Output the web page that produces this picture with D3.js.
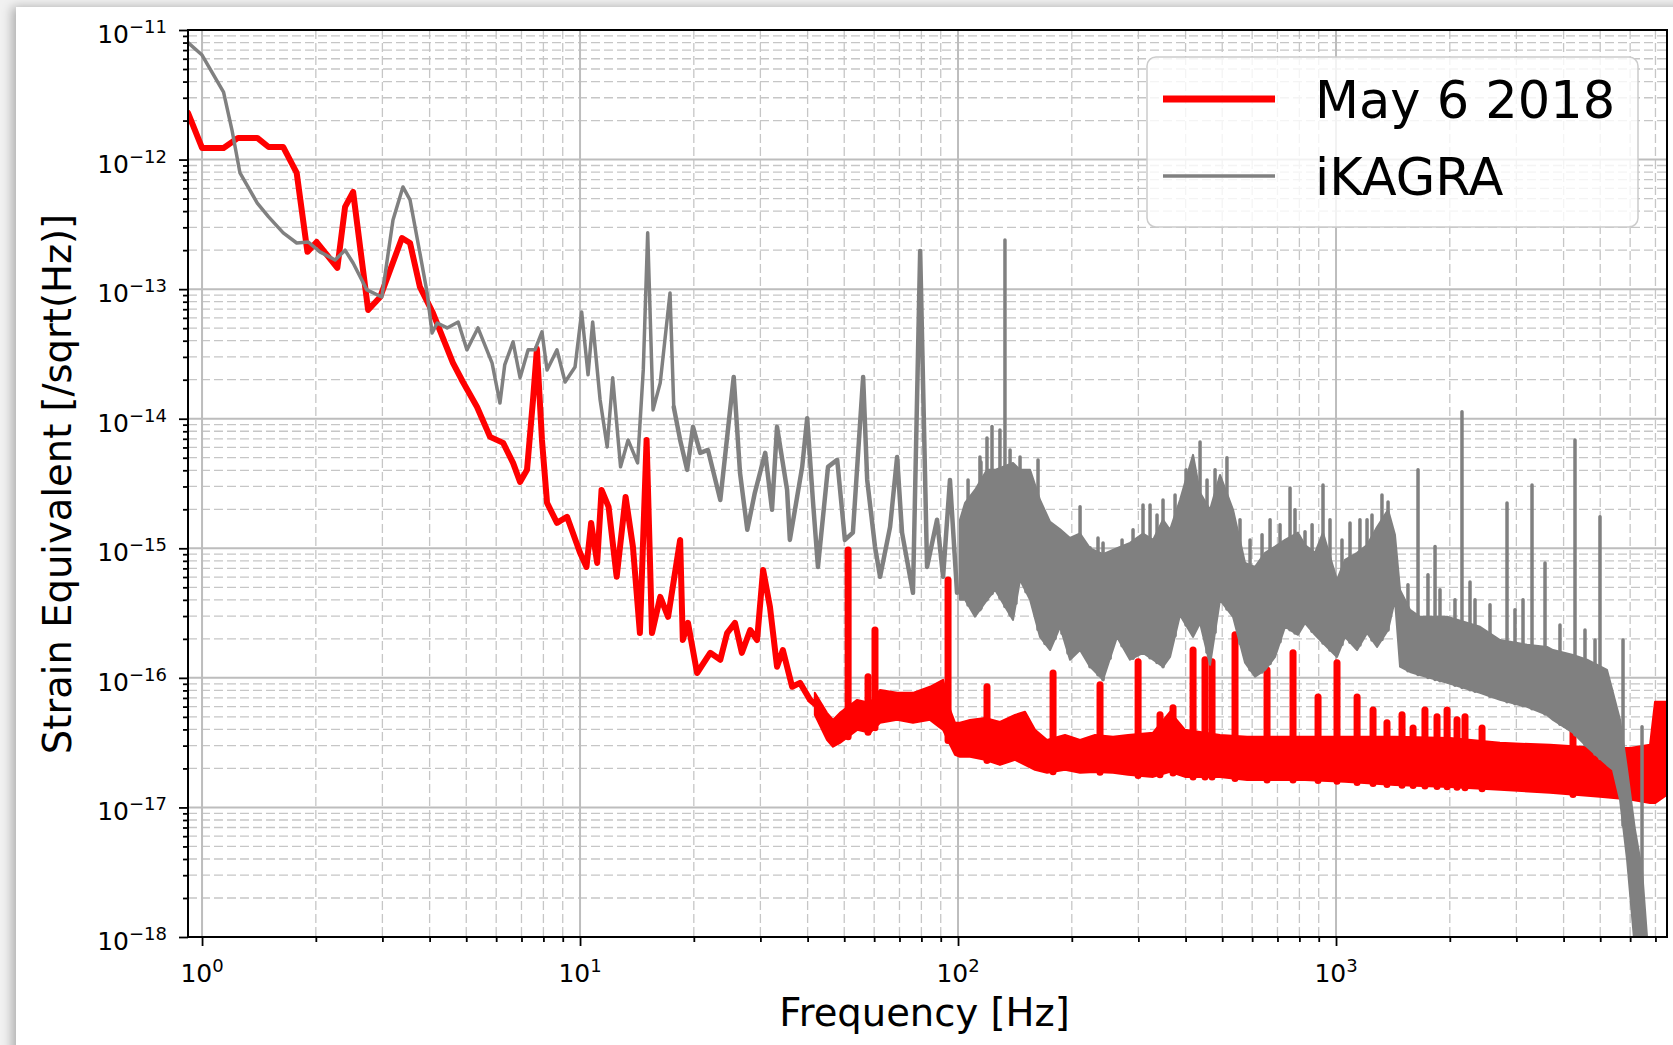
<!DOCTYPE html>
<html>
<head>
<meta charset="utf-8">
<script src="https://cdn.jsdelivr.net/npm/d3@7"></script>
<style>
  body { margin: 0; background: #f1f1f1; overflow: hidden; }
  #card { position: absolute; left: 16px; top: 7px; width: 1720px; height: 1100px;
          background: #fff; box-shadow: -4px 0 10px rgba(0,0,0,0.28); }
  svg { position: absolute; left: 0; top: 0; }
  text { font-family: "DejaVu Sans", sans-serif; fill: #000; }
</style>
</head>
<body>
<div id="card"></div>
<script>
/*
Strain sensitivity plot: May 6 2018 vs iKAGRA, log-log axes
*/

// tick exponents and legend text
var xTickExp = [0, 1, 2, 3];
var yTickExp = [-11, -12, -13, -14, -15, -16, -17, -18];
var legendLabels = ['May 6 2018', 'iKAGRA'];

// red trace, low frequency part (Hz, strain)
var redFreq = [0.918, 1.0, 1.14, 1.245, 1.40, 1.50, 1.64, 1.78, 1.90, 2.01, 2.28, 2.39, 2.51, 2.75, 2.96,
  3.38, 3.55, 3.77, 4.08, 4.61, 4.90, 5.34, 5.78, 6.26, 6.65, 6.94, 7.24, 7.51, 7.69, 7.93, 8.18, 8.69,
  9.24, 10.0, 10.4, 10.7, 11.1, 11.4, 11.9, 12.5, 13.2, 13.8, 14.4, 15.0, 15.5, 16.3, 17.1, 18.4, 18.7,
  19.3, 20.4, 22.1, 23.5, 24.5, 25.7, 26.8, 28.2, 29.4, 30.5, 31.8, 33.2, 34.4, 36.4, 38.2, 40.6, 41.8];
var redVal = [2.29e-12, 1.23e-12, 1.23e-12, 1.47e-12, 1.47e-12, 1.25e-12, 1.25e-12, 7.88e-13, 1.94e-13,
  2.31e-13, 1.46e-13, 4.31e-13, 5.62e-13, 6.91e-14, 8.7e-14, 2.48e-13, 2.27e-13, 1.04e-13, 6.55e-14,
  2.70e-14, 1.92e-14, 1.23e-14, 7.24e-15, 6.51e-15, 4.56e-15, 3.25e-15, 4.03e-15, 1.40e-14, 3.46e-14,
  6.86e-15, 2.24e-15, 1.57e-15, 1.75e-15, 9.22e-16, 7.18e-16, 1.57e-15, 7.71e-16, 2.82e-15, 2.09e-15,
  6.02e-16, 2.49e-15, 1.03e-15, 2.22e-16, 6.86e-15, 2.22e-16, 4.22e-16, 2.96e-16, 1.16e-15, 1.96e-16,
  2.66e-16, 1.09e-16, 1.56e-16, 1.38e-16, 2.22e-16, 2.66e-16, 1.56e-16, 2.34e-16, 1.96e-16, 6.81e-16,
  3.53e-16, 1.22e-16, 1.64e-16, 8.53e-17, 9.15e-17, 6.76e-17, 6.3e-17];

// red trace, dense noisy part: upper / lower envelope
var redBandFreq = [41.8, 45.0, 46.7, 48.7, 54.1, 58.5, 62.2, 69.0, 76.0, 84.3, 91.3, 95.3, 98.2, 101.2,
  107.6, 117.9, 129.1, 141.5, 150.4, 159.8, 172.0, 191.9, 210.3, 230.4, 257.1, 281.7, 328.1, 363.8, 398.6,
  493.3, 581.7, 711.0, 827.9, 1056, 1432, 2003, 2716, 3683, 4993, 5996, 6773, 6981, 7512];
var redBandHi = [7.66e-17, 5.37e-17, 4.74e-17, 5.37e-17, 6.76e-17, 6.41e-17, 8.07e-17, 7.66e-17, 7.66e-17,
  8.53e-17, 9.66e-17, 5.66e-17, 4.50e-17, 4.50e-17, 4.74e-17, 4.91e-17, 4.57e-17, 5.18e-17, 5.47e-17,
  3.97e-17, 3.32e-17, 3.63e-17, 3.32e-17, 3.63e-17, 3.51e-17, 3.63e-17, 3.77e-17, 5.47e-17, 3.97e-17,
  3.63e-17, 3.51e-17, 3.51e-17, 3.51e-17, 3.51e-17, 3.51e-17, 3.44e-17, 3.15e-17, 3.04e-17, 2.88e-17,
  2.88e-17, 3.04e-17, 6.53e-17, 6.53e-17];
var redBandLo = [5.18e-17, 3.32e-17, 2.94e-17, 3.15e-17, 3.97e-17, 3.77e-17, 4.50e-17, 4.74e-17, 4.50e-17,
  4.74e-17, 3.97e-17, 3.04e-17, 2.55e-17, 2.46e-17, 2.46e-17, 2.33e-17, 2.13e-17, 2.33e-17, 2.13e-17,
  1.95e-17, 1.85e-17, 1.95e-17, 1.85e-17, 1.88e-17, 1.85e-17, 1.79e-17, 1.72e-17, 1.88e-17, 1.72e-17,
  1.72e-17, 1.63e-17, 1.63e-17, 1.63e-17, 1.58e-17, 1.49e-17, 1.44e-17, 1.37e-17, 1.30e-17, 1.21e-17,
  1.15e-17, 1.08e-17, 1.08e-17, 1.25e-17];

// red lines standing above the noise
var redSpikeFreq = [51.2, 57.8, 60.3, 94.1, 119.3, 178.4, 237.5, 299.5, 342.3, 370.5, 418.6, 450.2, 469.9,
  540.5, 656.9, 769.6, 896.3, 1006, 1137, 1253, 1364, 1495, 1599, 1719, 1850, 1967, 2090, 2194, 2434, 4236];
var redSpikeVal = [9.72e-16, 1.02e-16, 2.34e-16, 5.7e-16, 8.53e-17, 1.09e-16, 8.83e-17, 1.33e-16, 5.18e-17,
  5.87e-17, 1.64e-16, 1.38e-16, 1.33e-16, 2.15e-16, 1.15e-16, 1.56e-16, 7.13e-17, 1.31e-16, 7.13e-17,
  5.66e-17, 4.50e-17, 5.18e-17, 4.11e-17, 5.66e-17, 5.0e-17, 5.66e-17, 4.74e-17, 5.0e-17, 4.11e-17, 4.19e-17];

// gray trace, below ~18 Hz
var grayFreq = [0.918, 1.0, 1.14, 1.20, 1.26, 1.40, 1.50, 1.64, 1.78, 1.91, 2.05, 2.25, 2.39, 2.51, 2.73,
  2.99, 3.20, 3.40, 3.55, 3.77, 3.94, 4.06, 4.19, 4.45, 4.76, 5.02, 5.37, 5.85, 6.14, 6.32, 6.65, 6.94,
  7.29, 7.60, 7.93, 8.18, 8.69, 9.13, 9.70, 10.1, 10.5, 10.8, 11.3, 11.8, 12.2, 12.8, 13.4, 14.2, 14.7,
  15.1, 15.6, 16.3, 17.3, 17.7];
var grayVal = [8.0e-12, 6.41e-12, 3.32e-12, 1.69e-12, 7.88e-13, 4.62e-13, 3.61e-13, 2.72e-13, 2.27e-13,
  2.31e-13, 1.94e-13, 1.68e-13, 2.0e-13, 1.59e-13, 9.86e-14, 8.7e-14, 3.42e-13, 6.15e-13, 4.88e-13,
  1.90e-13, 9.35e-14, 4.59e-14, 5.48e-14, 5.02e-14, 5.58e-14, 3.40e-14, 5.02e-14, 2.70e-14, 1.32e-14,
  2.60e-14, 3.92e-14, 2.07e-14, 3.40e-14, 3.40e-14, 4.68e-14, 2.38e-14, 3.40e-14, 1.92e-14, 2.51e-14,
  6.67e-14, 2.18e-14, 5.58e-14, 1.40e-14, 6.06e-15, 2.07e-14, 4.25e-15, 6.86e-15, 4.56e-15, 2.38e-14,
  2.72e-13, 1.17e-14, 1.89e-14, 9.35e-14, 1.23e-14];

// gray trace, 18-100 Hz (noisier, reads as a thicker line)
var grayMidFreq = [17.7, 18.4, 19.2, 19.9, 20.8, 21.8, 23.5, 24.9, 25.5, 26.5, 27.7, 29.0, 30.9, 32.2, 33.2,
  35.3, 35.9, 38.7, 39.9, 41.3, 42.6, 45.3, 47.9, 50.2, 52.7, 56.1, 57.5, 60.3, 62.2, 66.1, 69.0, 71.1,
  76.0, 79.4, 82.8, 88.0, 91.3, 95.2, 99.4];
var grayMidVal = [1.23e-14, 6.86e-15, 4.03e-15, 8.65e-15, 5.45e-15, 5.74e-15, 2.36e-15, 1.11e-14, 2.10e-14,
  3.82e-15, 1.39e-15, 2.68e-15, 5.45e-15, 1.98e-15, 8.65e-15, 2.82e-15, 1.16e-15, 4.25e-15, 1.01e-14,
  2.36e-15, 7.18e-16, 4.25e-15, 4.81e-15, 1.16e-15, 1.32e-15, 2.10e-14, 3.37e-15, 1.03e-15, 6.02e-16,
  1.46e-15, 5.07e-15, 1.32e-15, 4.53e-16, 1.97e-13, 7.18e-16, 1.66e-15, 6.02e-16, 3.37e-15, 4.53e-16];

// gray trace, dense noisy part
var grayBandFreq = [101.2, 104.4, 110.9, 119.3, 125.3, 139.8, 145.9, 155.1, 164.8, 175.2, 186.2, 197.8,
  210.3, 223.5, 241.9, 263.4, 285.1, 308.6, 328.1, 348.6, 363.8, 386.6, 418.6, 436.8, 464.2, 493.3, 534.0,
  574.6, 610.6, 649.0, 689.6, 733.1, 793.3, 827.9, 879.8, 923.8, 1006, 1056, 1137, 1208, 1284, 1373, 1432,
  1477, 1570, 1668, 1967, 2404, 2716, 3202, 3616, 3751, 4236, 4613, 5211, 5405, 5641, 5889, 6180, 6450, 6650];
var grayBandHi = [1.66e-15, 2.24e-15, 2.82e-15, 4.03e-15, 4.03e-15, 4.56e-15, 4.03e-15, 4.03e-15, 2.36e-15,
  1.6e-15, 1.4e-15, 1.2e-15, 1.3e-15, 1.0e-15, 9.0e-16, 1.0e-15, 1.1e-15, 1.3e-15, 1.16e-15,
  1.66e-15, 1.39e-15, 2.36e-15, 5.26e-15, 2.68e-15, 1.98e-15, 3.68e-15, 1.98e-15, 7.71e-16, 7.18e-16,
  9.22e-16, 1.03e-15, 1.16e-15, 1.32e-15, 1.06e-15, 9.22e-16, 1.32e-15, 5.70e-16, 8.13e-16, 9.22e-16,
  1.06e-15, 1.46e-15, 1.98e-15, 1.27e-15, 4.78e-16, 3.35e-16, 2.96e-16, 2.96e-16, 2.48e-16, 1.96e-16,
  1.80e-16, 1.73e-16, 1.64e-16, 1.50e-16, 1.38e-16, 1.15e-16, 7.66e-17, 4.74e-17, 1.95e-17, 6.72e-18,
  3.30e-18, 1.0e-18];
var grayBandLo = [4.0e-16, 4.0e-16, 2.96e-16, 4.0e-16, 4.78e-16, 2.80e-16, 5.70e-16, 4.0e-16, 2.07e-16,
  1.64e-16, 2.48e-16, 1.38e-16, 1.64e-16, 1.22e-16, 9.66e-17, 2.07e-16, 1.38e-16, 1.56e-16, 1.38e-16,
  1.22e-16, 1.45e-16, 3.06e-16, 2.07e-16, 2.65e-16, 1.26e-16, 4.0e-16, 2.96e-16, 1.31e-16, 1.02e-16,
  1.15e-16, 1.45e-16, 2.48e-16, 2.15e-16, 2.65e-16, 2.15e-16, 1.86e-16, 1.45e-16, 2.07e-16, 1.64e-16,
  2.22e-16, 1.73e-16, 2.34e-16, 4.0e-16, 1.22e-16, 1.11e-16, 1.05e-16, 9.15e-17, 7.66e-17, 6.76e-17,
  5.97e-17, 5.18e-17, 4.74e-17, 3.77e-17, 2.94e-17, 2.13e-17, 1.95e-17, 1.15e-17, 3.94e-18, 7.96e-19,
  3.92e-19, 3.28e-19];

// gray lines above the noise, tall ones and the many short ones on the band's edge
var graySpikeFreq = [106.3, 114.3, 115.0, 119.3, 123.0, 129.1, 133.1, 137.3, 142.3, 145.9, 151.3, 162.8,
  169.9, 180.6, 188.4, 195.4, 210.3, 223.5, 234.6, 241.9, 252.5, 271.6, 290.4, 308.6, 322.1, 336.1, 348.6,
  375.1, 401.1, 436.8, 455.8, 478.6, 514.6, 557.2, 592.3, 637.2, 669.1, 711.0, 755.7, 778.9, 827.9, 864.3,
  923.8, 964.0, 1037, 1089, 1157, 1208, 1245, 1323, 1373, 1550, 1648, 1751, 1828, 1884, 2064, 2154, 2262,
  2332, 2555, 2834, 2975, 3124, 3300, 3572, 3913, 4288, 4557, 4844, 4993, 5745, 6450];
var graySpikeVal = [3.37e-15, 5.07e-15, 4.64e-15, 7.11e-15, 8.7e-15, 8.20e-15, 2.40e-13, 5.74e-15, 4.03e-15,
  5.07e-15, 3.08e-15, 4.81e-15, 1.81e-15, 1.39e-15, 1.22e-15, 1.16e-15, 2.09e-15, 1.01e-15, 1.20e-15,
  1.10e-15, 8.9e-16, 1.16e-15, 1.39e-15, 2.16e-15, 2.16e-15, 1.81e-15, 2.36e-15, 2.58e-15, 4.03e-15,
  6.62e-15, 3.37e-15, 4.03e-15, 4.99e-15, 1.66e-15, 1.16e-15, 1.27e-15, 1.66e-15, 1.52e-15, 2.92e-15,
  1.98e-15, 1.34e-15, 1.52e-15, 3.08e-15, 1.66e-15, 1.16e-15, 1.57e-15, 1.66e-15, 1.66e-15, 1.81e-15,
  2.58e-15, 2.28e-15, 5.22e-16, 4.03e-15, 6.24e-16, 1.03e-15, 4.78e-16, 4.0e-16, 1.13e-14, 5.5e-16,
  4.0e-16, 3.66e-16, 2.24e-15, 3.35e-16, 4.0e-16, 3.08e-15, 7.71e-16, 2.56e-16, 6.86e-15, 2.34e-16,
  1.96e-16, 1.75e-15, 1.96e-16, 4.19e-17];

var RED = '#ff0000', GRAY = '#808080';

//Create the margin and the viz measurements
var margin = {top: 30, left: 188},
    w = 1479,
    h = 907;

var svg = d3.select('body').append('svg')
    .attr('width', 1673)
    .attr('height', 1045);

var g = svg.append('g')
    .attr('transform', 'translate(' + margin.left + ',' + margin.top + ')');

var xScale = d3.scaleLog().domain([0.918, 7510]).range([0, w]);
var yScale = d3.scaleLog().domain([1e-18, 1e-11]).range([h, 0]);

// major and minor tick positions (1..9 per decade)
var xMajor = [], xMinor = [], yMajor = [], yMinor = [];
for (var d = -1; d <= 3; d++) {
  for (var k = 1; k < 10; k++) {
    var v = k * Math.pow(10, d);
    if (v < 0.918 || v > 7510) continue;
    (k === 1 ? xMajor : xMinor).push(v);
  }
}
for (var d = -18; d <= -11; d++) {
  for (var k = 1; k < 10; k++) {
    var v = k * Math.pow(10, d);
    if (v > 1.0001e-11) continue;
    (k === 1 ? yMajor : yMinor).push(v);
  }
}

// grid
var grid = g.append('g');
grid.selectAll('.vminor').data(xMinor).enter().append('line')
  .attr('x1', function (d) { return xScale(d); })
  .attr('x2', function (d) { return xScale(d); })
  .attr('y1', 0).attr('y2', h)
  .attr('stroke', '#c6c6c6').attr('stroke-width', 1.3).attr('stroke-dasharray', '9,4');
grid.selectAll('.hminor').data(yMinor).enter().append('line')
  .attr('y1', function (d) { return yScale(d); })
  .attr('y2', function (d) { return yScale(d); })
  .attr('x1', 0).attr('x2', w)
  .attr('stroke', '#c6c6c6').attr('stroke-width', 1.3).attr('stroke-dasharray', '9,4');
grid.selectAll('.vmajor').data(xMajor).enter().append('line')
  .attr('x1', function (d) { return xScale(d); })
  .attr('x2', function (d) { return xScale(d); })
  .attr('y1', 0).attr('y2', h)
  .attr('stroke', '#bdbdbd').attr('stroke-width', 2);
grid.selectAll('.hmajor').data(yMajor).enter().append('line')
  .attr('y1', function (d) { return yScale(d); })
  .attr('y2', function (d) { return yScale(d); })
  .attr('x1', 0).attr('x2', w)
  .attr('stroke', '#bdbdbd').attr('stroke-width', 2);

// clip the traces to the axes box
svg.append('defs').append('clipPath').attr('id', 'plotclip')
  .append('rect').attr('width', w).attr('height', h);
var plot = g.append('g').attr('clip-path', 'url(#plotclip)');

var line = d3.line()
    .x(function (d) { return xScale(d.f); })
    .y(function (d) { return yScale(d.v); });

var area = d3.area()
    .x(function (d) { return xScale(d.f); })
    .y0(function (d) { return yScale(d.lo); })
    .y1(function (d) { return yScale(d.hi); });

function pts(fs, vs) {
  return fs.map(function (f, i) { return {f: f, v: vs[i]}; });
}
function band(fs, hi, lo) {
  return fs.map(function (f, i) { return {f: f, hi: hi[i], lo: lo[i]}; });
}
// value of an envelope at frequency f (log-log between its points), for the foot of a spike
function envAt(fs, vs, f) {
  var i = d3.bisectLeft(fs, f);
  if (i <= 0) return vs[0];
  if (i >= fs.length) return vs[vs.length - 1];
  var t = (Math.log(f) - Math.log(fs[i - 1])) / (Math.log(fs[i]) - Math.log(fs[i - 1]));
  return Math.exp(Math.log(vs[i - 1]) + t * (Math.log(vs[i]) - Math.log(vs[i - 1])));
}

function drawLine(col, lw, fs, vs) {
  plot.append('path')
    .datum(pts(fs, vs))
    .attr('d', line)
    .attr('fill', 'none').attr('stroke', col).attr('stroke-width', lw)
    .attr('stroke-linejoin', 'round').attr('stroke-linecap', 'round');
}

function drawBand(col, spw, bf, bh, bl, sf, sv) {
  plot.append('path')
    .datum(band(bf, bh, bl))
    .attr('d', area)
    .attr('fill', col).attr('stroke', col).attr('stroke-width', 2)
    .attr('stroke-linejoin', 'round');
  plot.selectAll(null)
    .data(pts(sf, sv))
    .enter()
    .append('line')
    .attr('x1', function (d) { return xScale(d.f); })
    .attr('x2', function (d) { return xScale(d.f); })
    .attr('y1', function (d) { return yScale(envAt(bf, bl, d.f)); })
    .attr('y2', function (d) { return yScale(d.v); })
    .attr('stroke', col).attr('stroke-width', spw).attr('stroke-linecap', 'round');
}

// red first, gray drawn over it
drawBand(RED, 7, redBandFreq, redBandHi, redBandLo, redSpikeFreq, redSpikeVal);
drawLine(RED, 6, redFreq, redVal);
drawBand(GRAY, 3.5, grayBandFreq, grayBandHi, grayBandLo, graySpikeFreq, graySpikeVal);
drawLine(GRAY, 3.5, grayFreq, grayVal);
drawLine(GRAY, 4.5, grayMidFreq, grayMidVal);

// axes box
g.append('rect')
  .attr('width', w).attr('height', h)
  .attr('fill', 'none').attr('stroke', '#000').attr('stroke-width', 2);

// ticks
function ticks(axis, vals, size) {
  var a = g.append('g').call(axis.tickValues(vals).tickSize(size).tickFormat(''));
  a.select('.domain').remove();
  a.selectAll('line').attr('stroke-width', 1.8);
  return a;
}
ticks(d3.axisLeft(yScale), yMajor, 9);
ticks(d3.axisLeft(yScale), yMinor, 5);
ticks(d3.axisBottom(xScale), xMajor, 9).attr('transform', 'translate(0,' + h + ')');
ticks(d3.axisBottom(xScale), xMinor, 5).attr('transform', 'translate(0,' + h + ')');

// tick labels 10^n
g.selectAll('.ylab').data(yTickExp).enter().append('text')
  .attr('x', -21)
  .attr('y', function (d) { return yScale(Math.pow(10, d)) + 13; })
  .attr('text-anchor', 'end')
  .attr('font-size', 25)
  .each(function (d) {
    var t = d3.select(this);
    t.append('tspan').text('10');
    t.append('tspan').attr('dy', -10).attr('font-size', 18).text('\u2212' + Math.abs(d));
  });

g.selectAll('.xlab').data(xTickExp).enter().append('text')
  .attr('x', function (d) { return xScale(Math.pow(10, d)); })
  .attr('y', h + 45)
  .attr('text-anchor', 'middle')
  .attr('font-size', 25)
  .each(function (d) {
    var t = d3.select(this);
    t.append('tspan').text('10');
    t.append('tspan').attr('dy', -10).attr('font-size', 18).text(d);
  });

// axis titles
svg.append('text')
  .attr('x', margin.left + w / 2 - 3)
  .attr('y', 1026)
  .attr('text-anchor', 'middle')
  .attr('font-size', 38.5)
  .text('Frequency [Hz]');

svg.append('text')
  .attr('transform', 'translate(71,484) rotate(-90)')
  .attr('text-anchor', 'middle')
  .attr('font-size', 38.5)
  .text('Strain Equivalent [/sqrt(Hz)]');

// legend
var leg = svg.append('g');
leg.append('rect')
  .attr('x', 1147).attr('y', 57).attr('width', 491).attr('height', 170).attr('rx', 9)
  .attr('fill', '#fff').attr('fill-opacity', 0.8)
  .attr('stroke', '#cccccc').attr('stroke-width', 1.5);

var legItems = leg.selectAll('.item')
  .data(legendLabels)
  .enter()
  .append('g')
  .attr('transform', function (d, i) { return 'translate(0,' + (99 + i * 77) + ')'; });

legItems.append('line')
  .attr('x1', 1163).attr('x2', 1275)
  .attr('stroke', function (d, i) { return i === 0 ? RED : GRAY; })
  .attr('stroke-width', function (d, i) { return i === 0 ? 7 : 3.5; });

legItems.append('text')
  .attr('x', 1315).attr('y', 18.5)
  .attr('font-size', 51)
  .text(function (d) { return d; });
</script>
</body>
</html>
